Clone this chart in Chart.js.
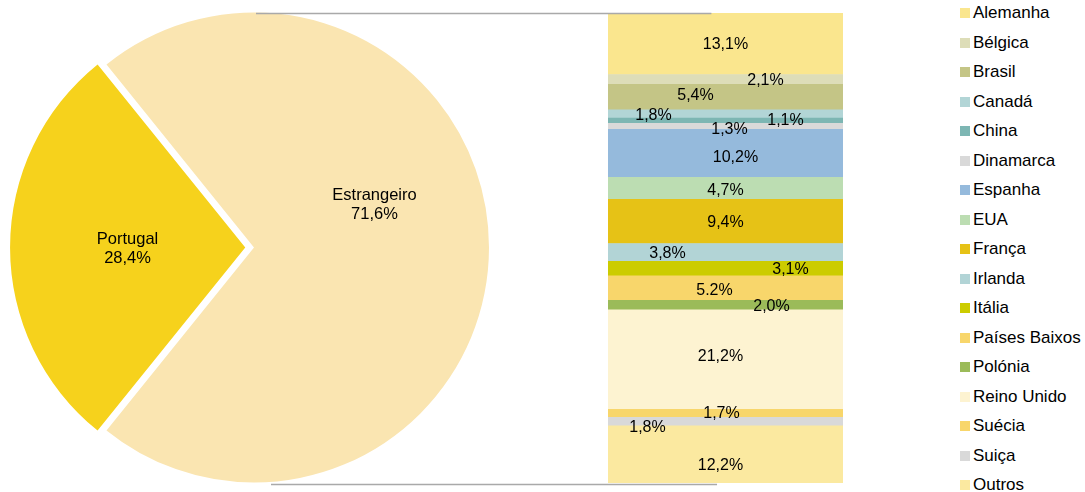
<!DOCTYPE html>
<html>
<head>
<meta charset="utf-8">
<script src="https://cdn.jsdelivr.net/npm/chart.js@4.4.0/dist/chart.umd.min.js"></script>
<style>
  body { margin: 0; width: 1085px; height: 492px; position: relative; overflow: hidden; background: #fff; font-family: "Liberation Sans", Arial, sans-serif; }
  #pieWrap { position: absolute; left: 0; top: 0; width: 730px; height: 492px; z-index: 2; }
  #barWrap { position: absolute; left: 600px; top: 0; width: 250px; height: 492px; z-index: 1; }
  #legend { position: absolute; left: 960px; top: -1.5px; }
  .item { display: flex; align-items: center; height: 29.5px; font-size: 17px; color: #000; white-space: nowrap; }
  .box { width: 10px; height: 10px; margin-right: 3px; flex: none; }
</style>
</head>
<body>
<div id="barWrap"><canvas id="bar"></canvas></div>
<div id="pieWrap"><canvas id="pie"></canvas></div>
<div id="legend"></div>
<script>
// pie: origem dos visitantes
const pieLabels = ['Portugal', 'Estrangeiro'];
const pieValues = [28.4, 71.6];
const pieText = ['28,4%', '71,6%'];
const pieColors = ['#F6D21C', '#FAE5B1'];

// barra: estrangeiro por país (de cima para baixo)
const countries = ['Alemanha', 'Bélgica', 'Brasil', 'Canadá', 'China', 'Dinamarca', 'Espanha', 'EUA', 'França', 'Irlanda', 'Itália', 'Países Baixos', 'Polónia', 'Reino Unido', 'Suécia', 'Suiça', 'Outros'];
const shares = [13.1, 2.1, 5.4, 1.8, 1.1, 1.3, 10.2, 4.7, 9.4, 3.8, 3.1, 5.2, 2.0, 21.2, 1.7, 1.8, 12.2];
const shareText = ['13,1%', '2,1%', '5,4%', '1,8%', '1,1%', '1,3%', '10,2%', '4,7%', '9,4%', '3,8%', '3,1%', '5.2%', '2,0%', '21,2%', '1,7%', '1,8%', '12,2%'];
const countryColors = ['#FAE68E', '#DDDDB8', '#C4C586', '#B2D5D6', '#7DB6B3', '#D9D9D9', '#95BADC', '#BCDDB2', '#E6C216', '#B2D4D6', '#CCCC00', '#F8D66B', '#9BBB59', '#FDF3D1', '#F8D66B', '#D9D9D9', '#FBE9A0'];

// label nudges (excel moved some labels sideways to avoid overlaps)
const barNudge = [[0, 1], [40, 1.5], [-30, -1], [-72, 2], [60, 0], [4, 3], [10, 4.5], [0, 2.5], [0, 1.5], [-58, 1.5], [65, 1], [-11, 2.5], [46, 1.5], [-5, -3], [-4, 0], [-78, 6], [-5, 11]];
const pieNudge = [[0, 1.5], [3, -43]];

const barFont = '16px "Liberation Sans", Arial, sans-serif';
const pieFont = '16.5px "Liberation Sans", Arial, sans-serif';
const total = shares.reduce((a, b) => a + b, 0);

const barLabels = {
  id: 'barLabels',
  afterDatasetsDraw(chart) {
    const ctx = chart.ctx;
    const n = countries.length;
    ctx.save();
    ctx.font = barFont;
    ctx.fillStyle = '#000';
    ctx.textAlign = 'center';
    ctx.textBaseline = 'middle';
    chart.data.datasets.forEach((ds, di) => {
      const i = n - 1 - di;
      const bar = chart.getDatasetMeta(di).data[0];
      const x = bar.x + barNudge[i][0];
      const y = (bar.y + bar.base) / 2 + barNudge[i][1];
      ctx.fillText(shareText[i], x, y);
    });
    ctx.restore();
  }
};

const barChart = new Chart(document.getElementById('bar'), {
  type: 'bar',
  data: {
    labels: [''],
    datasets: countries.map((c, i) => ({
      label: c,
      data: [shares[i]],
      backgroundColor: countryColors[i],
      borderWidth: 0,
      barPercentage: 1,
      categoryPercentage: 1
    })).reverse()
  },
  options: {
    responsive: true,
    maintainAspectRatio: false,
    animation: false,
    events: [],
    layout: { padding: { left: 8, right: 7, top: 13, bottom: 9 } },
    plugins: { legend: { display: false }, tooltip: { enabled: false } },
    scales: {
      x: { stacked: true, display: false },
      y: { stacked: true, display: false, min: 0, max: total }
    }
  },
  plugins: [barLabels]
});

const pieExtras = {
  id: 'pieExtras',
  afterDatasetsDraw(chart) {
    const ctx = chart.ctx;
    const arcs = chart.getDatasetMeta(0).data;
    ctx.save();
    ctx.font = pieFont;
    ctx.fillStyle = '#000';
    ctx.textAlign = 'center';
    ctx.textBaseline = 'middle';
    arcs.forEach((arc, i) => {
      const mid = (arc.startAngle + arc.endAngle) / 2;
      const off = (arc.options.offset || 0) / 4;
      const fix = 1 - Math.sin(Math.min(Math.PI, arc.circumference));
      const r = (arc.innerRadius + arc.outerRadius) / 2 + off * (1 + fix);
      const x = arc.x + Math.cos(mid) * r + pieNudge[i][0];
      const y = arc.y + Math.sin(mid) * r + pieNudge[i][1];
      ctx.fillText(pieLabels[i], x, y - 9.5);
      ctx.fillText(pieText[i], x, y + 9.5);
    });

    // series lines from the pie to the bar (bar lives on its own canvas)
    const dx = barChart.canvas.getBoundingClientRect().left - chart.canvas.getBoundingClientRect().left;
    const big = arcs[1];
    const barTop = barChart.getDatasetMeta(barChart.data.datasets.length - 1).data[0];
    const barBottom = barChart.getDatasetMeta(0).data[0];
    ctx.strokeStyle = '#A9A9A9';
    ctx.lineWidth = 1.5;
    ctx.beginPath();
    ctx.moveTo(big.x + 2, barTop.y + 0.5);
    ctx.lineTo(dx + barTop.x - barTop.width * 0.06, barTop.y + 0.5);
    ctx.moveTo(big.x + 17, barBottom.base + 1.5);
    ctx.lineTo(dx + barBottom.x - barBottom.width * 0.036, barBottom.base + 1.5);
    ctx.stroke();
    ctx.restore();
  }
};

new Chart(document.getElementById('pie'), {
  type: 'pie',
  data: {
    labels: pieLabels,
    datasets: [{
      data: pieValues,
      backgroundColor: pieColors,
      borderWidth: 0,
      offset: [35, 0]
    }]
  },
  options: {
    responsive: true,
    maintainAspectRatio: false,
    animation: false,
    events: [],
    radius: 235,
    rotation: 270 - pieValues[0] * 3.6 / 2,
    layout: { padding: { left: 0, right: 222, top: 3, bottom: 0 } },
    plugins: { legend: { display: false }, tooltip: { enabled: false } }
  },
  plugins: [pieExtras]
});

// legend in the same order as the bar, top to bottom
const legend = document.getElementById('legend');
countries.forEach((c, i) => {
  const item = document.createElement('div');
  item.className = 'item';
  item.innerHTML = `<span class="box" style="background:${countryColors[i]}"></span><span>${c}</span>`;
  legend.appendChild(item);
});
</script>
</body>
</html>
